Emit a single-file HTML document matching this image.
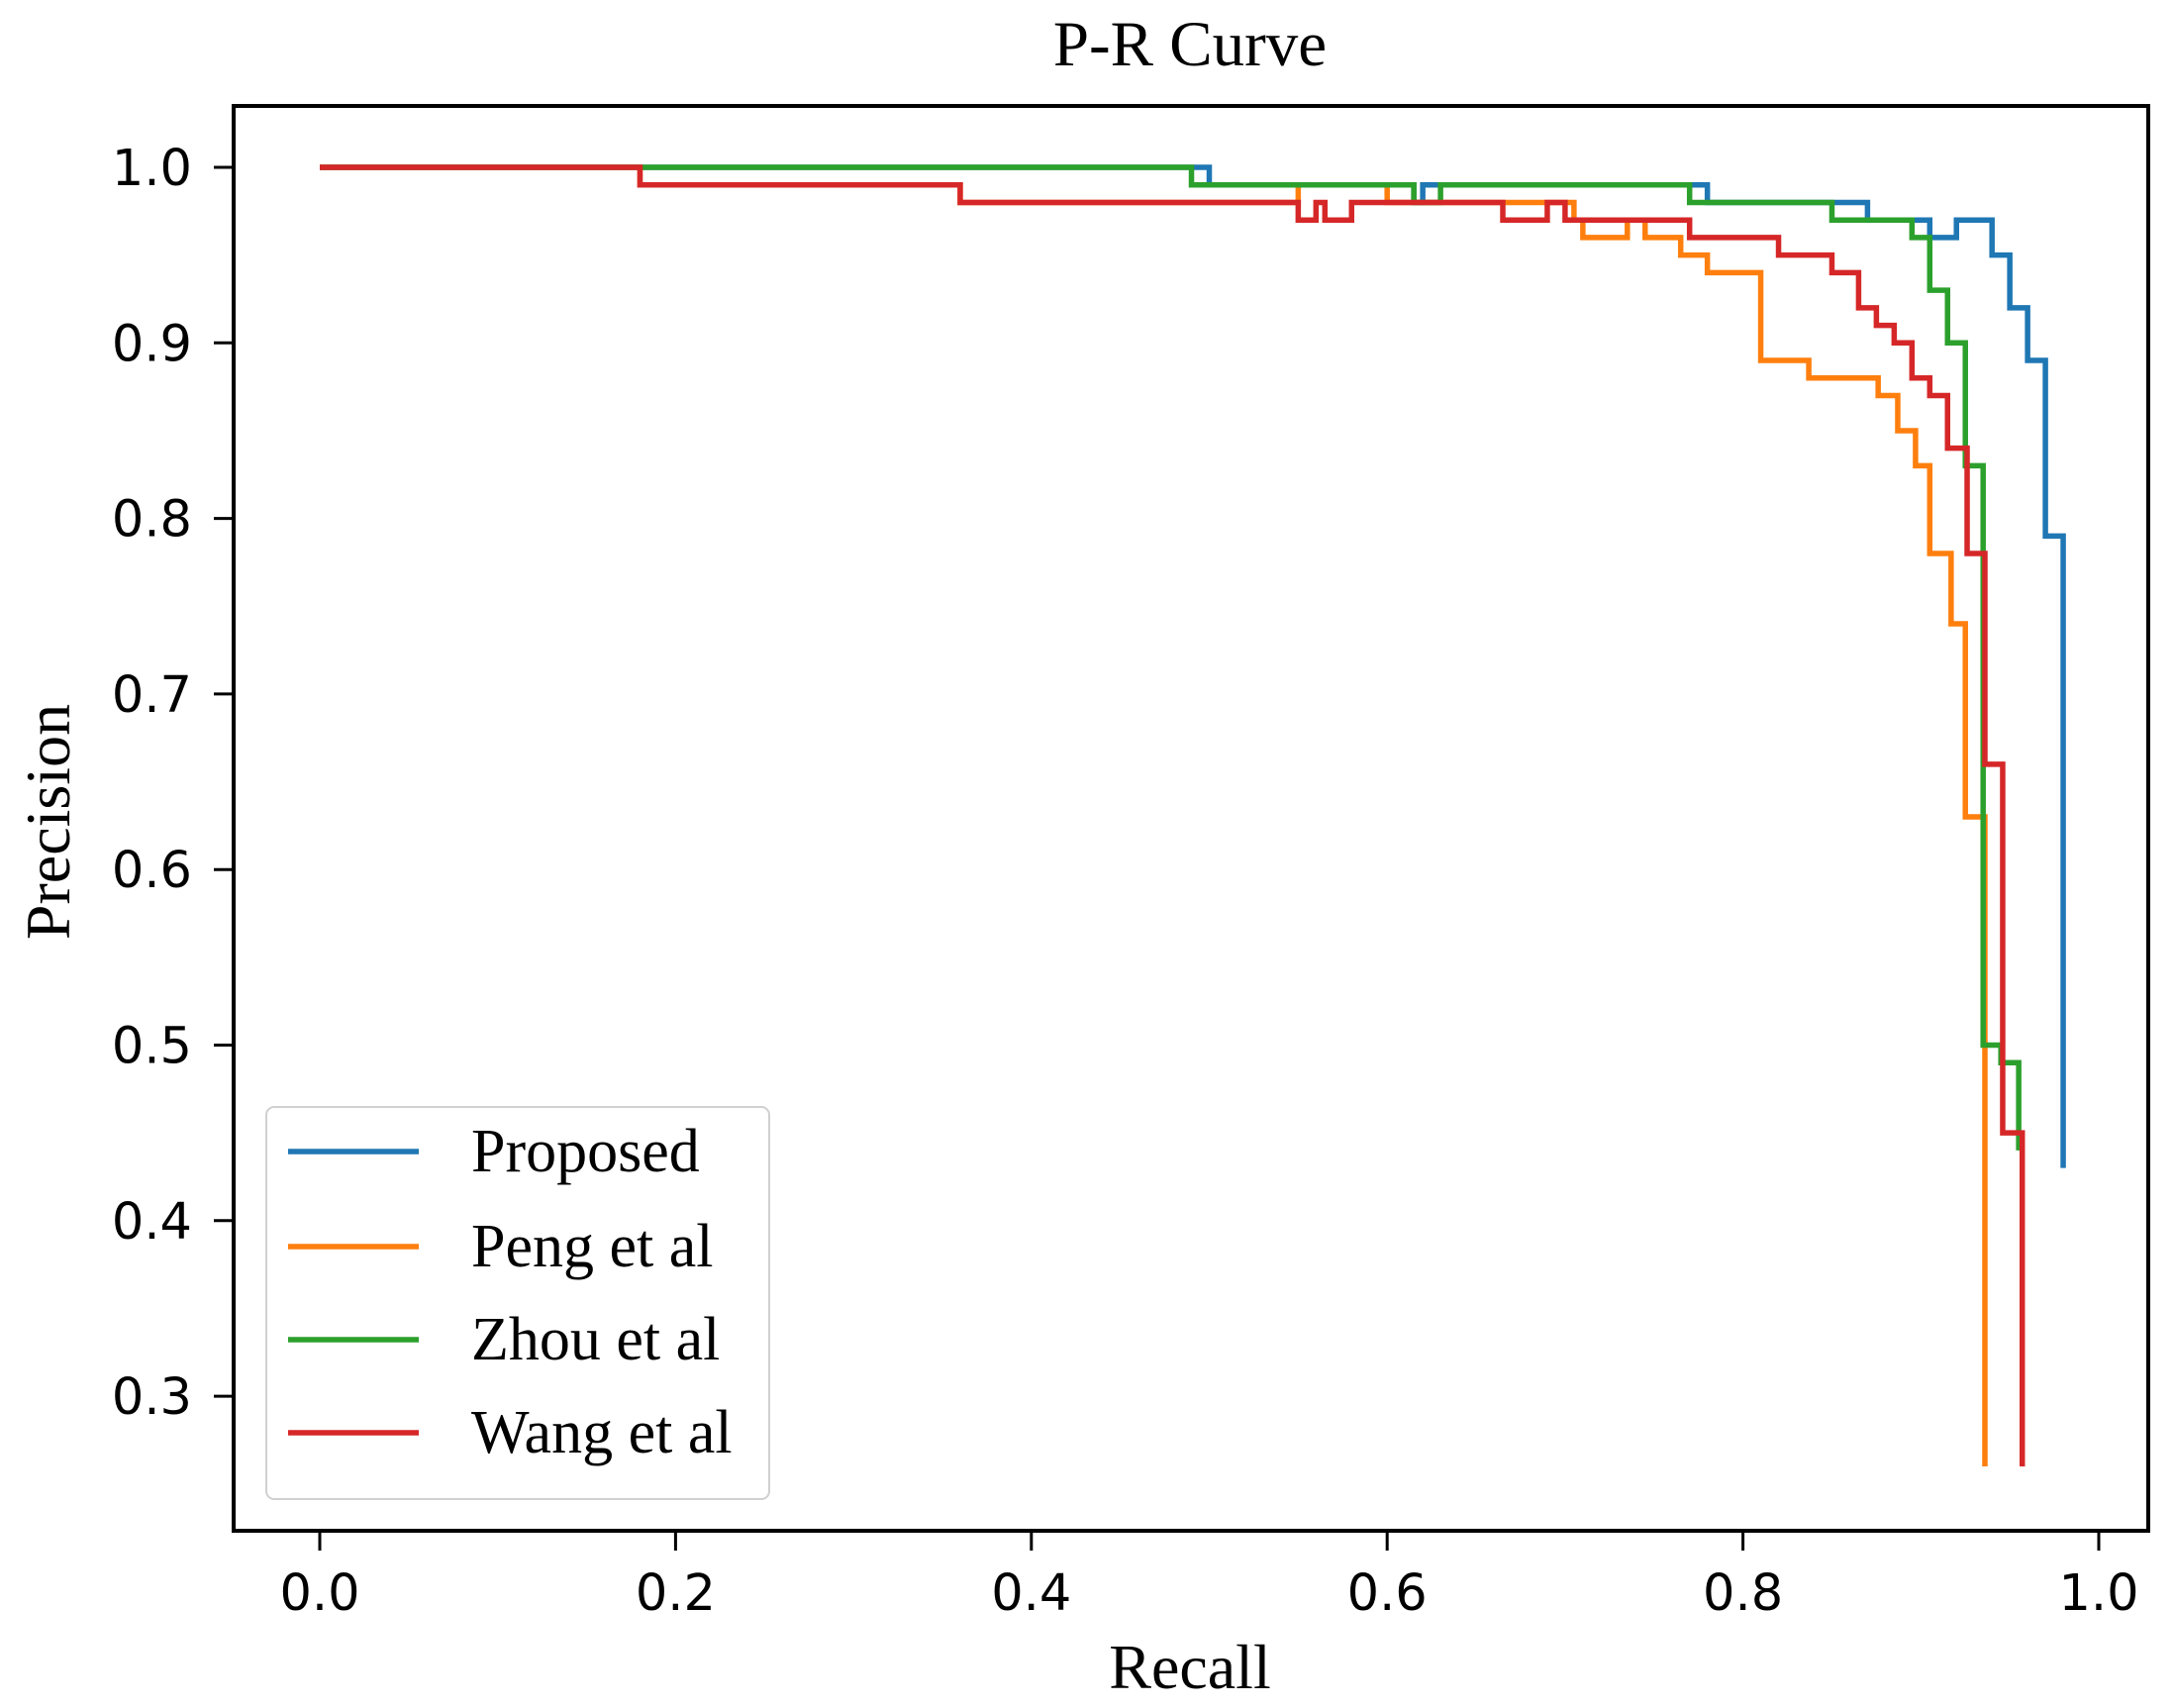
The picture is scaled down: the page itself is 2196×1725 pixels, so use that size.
<!DOCTYPE html>
<html><head><meta charset="utf-8"><style>
html,body{margin:0;padding:0;background:#fff;}
svg{display:block;}
.tick{font-family:"DejaVu Sans",sans-serif;font-size:51px;fill:#000;}
.serif{font-family:"Liberation Serif",serif;fill:#000;}
</style></head><body>
<svg id="chart" width="2196" height="1725" viewBox="0 0 2196 1725">
<text class="serif" x="1202" y="66" font-size="65" text-anchor="middle">P-R Curve</text>
<g id="series"></g>
<rect x="236" y="107" width="1934" height="1439" fill="none" stroke="#000" stroke-width="4"/>
<g id="axes"></g>
<text class="serif" x="1202" y="1705" font-size="64" text-anchor="middle">Recall</text>
<text class="serif" x="0" y="0" font-size="64" text-anchor="middle" transform="translate(70,830) rotate(-90)">Precision</text>
<g>
<rect x="269" y="1118" width="508" height="396" rx="8" fill="#fff" fill-opacity="0.85" stroke="#d0d0d0" stroke-width="2"/>
<line x1="291" x2="423" y1="1163" y2="1163" stroke="#1f77b4" stroke-width="5.5"/>
<text class="serif" x="476" y="1183" font-size="62">Proposed</text>
<line x1="291" x2="423" y1="1259" y2="1259" stroke="#ff7f0e" stroke-width="5.5"/>
<text class="serif" x="476" y="1279" font-size="62">Peng et al</text>
<line x1="291" x2="423" y1="1353" y2="1353" stroke="#2ca02c" stroke-width="5.5"/>
<text class="serif" x="476" y="1373" font-size="62">Zhou et al</text>
<line x1="291" x2="423" y1="1447" y2="1447" stroke="#d62728" stroke-width="5.5"/>
<text class="serif" x="476" y="1467" font-size="62">Wang et al</text>
</g>
</svg>
<script>
const xTicks=[0.0,0.2,0.4,0.6,0.8,1.0];
const xTickLabels=["0.0","0.2","0.4","0.6","0.8","1.0"];
const yTicks=[0.3,0.4,0.5,0.6,0.7,0.8,0.9,1.0];
const yTickLabels=["0.3","0.4","0.5","0.6","0.7","0.8","0.9","1.0"];
const proposedRecall=[0,0.50,0.615,0.62,0.78,0.87,0.905,0.92,0.94,0.95,0.96,0.97,0.98];
const proposedPrecision=[1.0,0.99,0.98,0.99,0.98,0.97,0.96,0.97,0.95,0.92,0.89,0.79,0.43];
const pengRecall=[0,0.18,0.36,0.55,0.60,0.705,0.71,0.735,0.745,0.765,0.78,0.81,0.837,0.876,0.887,0.897,0.905,0.917,0.925,0.936];
const pengPrecision=[1.0,0.99,0.98,0.99,0.98,0.97,0.96,0.97,0.96,0.95,0.94,0.89,0.88,0.87,0.85,0.83,0.78,0.74,0.63,0.26];
const zhouRecall=[0,0.49,0.615,0.63,0.77,0.85,0.895,0.905,0.915,0.925,0.935,0.945,0.955];
const zhouPrecision=[1.0,0.99,0.98,0.99,0.98,0.97,0.96,0.93,0.90,0.83,0.50,0.49,0.44];
const wangRecall=[0,0.18,0.36,0.55,0.56,0.565,0.58,0.665,0.69,0.70,0.77,0.82,0.85,0.865,0.875,0.885,0.895,0.905,0.915,0.926,0.936,0.946,0.957];
const wangPrecision=[1.0,0.99,0.98,0.97,0.98,0.97,0.98,0.97,0.98,0.97,0.96,0.95,0.94,0.92,0.91,0.90,0.88,0.87,0.84,0.78,0.66,0.45,0.26];

const NS="http://www.w3.org/2000/svg";
function sx(v){return 323+v*1797;}
function sy(v){return 169+(1.0-v)*1773;}
const axes=document.getElementById('axes');
xTicks.forEach((t,i)=>{
  const l=document.createElementNS(NS,'line');
  l.setAttribute('x1',sx(t));l.setAttribute('x2',sx(t));l.setAttribute('y1',1546);l.setAttribute('y2',1566);
  l.setAttribute('stroke','#000');l.setAttribute('stroke-width','3');
  
  
  axes.appendChild(l);
  const tx=document.createElementNS(NS,'text');
  tx.setAttribute('x',sx(t));tx.setAttribute('y',1626);tx.setAttribute('text-anchor','middle');tx.setAttribute('class','tick');
  tx.textContent=xTickLabels[i];
  
  
  axes.appendChild(tx);
});
yTicks.forEach((t,i)=>{
  const l=document.createElementNS(NS,'line');
  l.setAttribute('x1',216);l.setAttribute('x2',236);l.setAttribute('y1',sy(t));l.setAttribute('y2',sy(t));
  l.setAttribute('stroke','#000');l.setAttribute('stroke-width','3');
  
  
  axes.appendChild(l);
  const tx=document.createElementNS(NS,'text');
  tx.setAttribute('x',194);tx.setAttribute('y',sy(t)+18);tx.setAttribute('text-anchor','end');tx.setAttribute('class','tick');
  tx.textContent=yTickLabels[i];
  
  
  axes.appendChild(tx);
});
const series=document.getElementById('series');
function stepPath(r,p,color,name){
  let d='M'+sx(r[0])+' '+sy(p[0]);
  for(let i=1;i<r.length;i++){d+=' H'+sx(r[i])+' V'+sy(p[i]);}
  const pa=document.createElementNS(NS,'path');
  pa.setAttribute('d',d);pa.setAttribute('fill','none');pa.setAttribute('stroke',color);
  pa.setAttribute('stroke-width','5.5');
  
  
  series.appendChild(pa);
}
stepPath(proposedRecall,proposedPrecision,'#1f77b4','proposed-curve');
stepPath(pengRecall,pengPrecision,'#ff7f0e','peng-curve');
stepPath(zhouRecall,zhouPrecision,'#2ca02c','zhou-curve');
stepPath(wangRecall,wangPrecision,'#d62728','wang-curve');
</script>
</body></html>
